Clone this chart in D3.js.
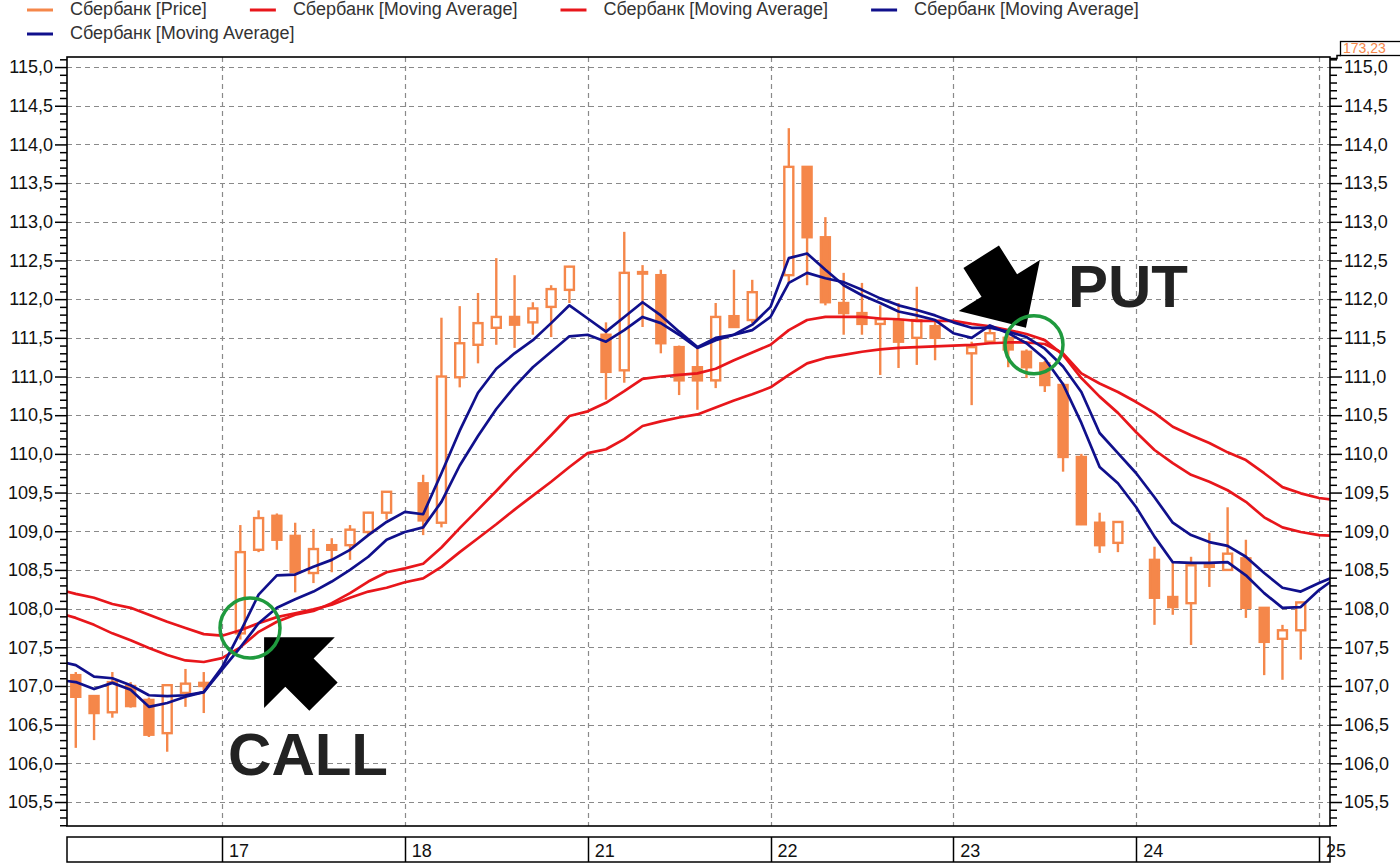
<!DOCTYPE html>
<html><head><meta charset="utf-8">
<script src="https://cdn.jsdelivr.net/npm/d3@7"></script>
<style>body{margin:0;background:#fff;}svg{display:block;}</style>
</head><body>
<svg id="c" width="1400" height="867"></svg>
<script>
// ---- DATA ----
const dayLabels = ["17","18","21","22","23","24","25"];
const dayStartIndex = [8,18,28,38,48,58,68];
const priceTicks = [105.5,106.0,106.5,107.0,107.5,108.0,108.5,109.0,109.5,110.0,110.5,111.0,111.5,112.0,112.5,113.0,113.5,114.0,114.5,115.0];
const legendLabels = ["Сбербанк [Price]","Сбербанк [Moving Average]","Сбербанк [Moving Average]","Сбербанк [Moving Average]","Сбербанк [Moving Average]"];
const lastPriceLabel = "173,23";

const opens = [107.14,106.87,106.66,107.00,106.82,106.39,106.91,107.04,107.84,107.68,
108.76,109.20,108.94,108.46,108.82,108.82,108.99,109.24,109.62,109.62,
109.11,110.99,111.41,111.63,111.77,111.70,111.90,112.12,111.56,111.54,
111.08,112.35,112.31,111.38,111.12,110.95,111.78,111.73,112.29,112.31,
113.71,112.80,111.95,111.82,111.68,111.73,111.50,111.65,111.30,111.30,
111.45,111.50,111.32,111.17,110.89,109.96,109.11,108.85,108.63,108.63,
108.15,108.07,108.56,108.50,108.65,108.01,107.61,107.72,108.67];
const highs = [107.18,106.88,107.18,107.05,106.85,107.02,107.22,107.18,107.84,109.08,
109.27,109.23,109.11,109.03,108.91,109.08,109.25,109.52,109.62,109.73,
111.76,111.91,112.08,112.53,112.31,111.96,112.18,112.43,111.56,111.70,
112.87,112.44,112.38,111.40,111.38,111.95,112.38,112.25,112.29,114.21,
113.72,113.06,112.34,112.21,111.92,111.95,112.16,111.73,111.30,111.45,
111.64,111.55,111.35,111.20,110.92,110.00,109.24,109.13,108.63,108.80,
108.59,108.67,108.98,109.31,108.89,108.02,107.79,108.09,108.67];
const lows = [106.20,106.30,106.59,106.72,106.34,106.15,106.73,106.65,107.84,107.60,
108.73,108.76,108.21,108.33,108.47,108.63,108.95,109.15,109.62,108.95,
109.05,110.86,111.17,111.41,111.37,111.54,111.51,111.95,111.56,110.70,
110.92,111.64,111.30,110.76,110.57,110.85,111.63,111.69,112.29,112.21,
112.18,111.92,111.54,111.54,111.02,111.11,111.15,111.21,111.30,110.63,
111.44,111.12,110.98,110.80,109.77,109.08,108.72,108.73,108.63,107.79,
107.92,107.53,108.28,108.49,107.88,107.14,107.08,107.34,108.67];
const closes = [106.86,106.65,107.05,106.74,106.37,107.01,107.03,107.00,107.84,108.73,
109.17,108.89,108.47,108.77,108.76,109.02,109.24,109.51,109.62,109.14,
111.00,111.43,111.69,111.77,111.67,111.88,112.13,112.42,111.56,111.06,
112.34,112.33,111.43,110.95,110.95,111.77,111.64,112.09,112.29,113.71,
112.80,111.96,111.82,111.68,111.74,111.45,111.73,111.50,111.30,111.38,
111.56,111.35,111.12,110.89,109.96,109.09,108.82,109.12,108.63,108.14,
108.02,108.56,108.54,108.71,108.01,107.57,107.72,108.08,108.67];

// moving averages, first value belongs to candle index -1
const maStart = -1;
const maRedFast = [107.95,107.88,107.79,107.68,107.59,107.49,107.40,107.33,107.31,107.36,
107.50,107.70,107.83,107.92,107.97,108.07,108.20,108.35,108.47,108.52,
108.58,108.79,109.04,109.28,109.52,109.77,110.00,110.24,110.49,110.55,
110.66,110.81,110.97,111.00,111.02,111.04,111.10,111.21,111.31,111.41,
111.60,111.73,111.77,111.77,111.77,111.75,111.74,111.72,111.72,111.72,
111.68,111.65,111.60,111.55,111.47,111.28,110.98,110.74,110.53,110.28,
110.05,109.88,109.73,109.64,109.53,109.38,109.18,109.05,108.99,108.95,108.94];
const maRedSlow = [108.25,108.19,108.14,108.06,108.01,107.92,107.83,107.75,107.67,107.65,
107.72,107.81,107.89,107.94,107.99,108.05,108.14,108.22,108.27,108.34,
108.39,108.54,108.73,108.91,109.09,109.28,109.46,109.64,109.83,110.01,
110.06,110.19,110.36,110.42,110.47,110.51,110.60,110.69,110.77,110.86,
111.02,111.17,111.24,111.28,111.32,111.35,111.37,111.38,111.39,111.40,
111.41,111.43,111.44,111.44,111.42,111.30,111.04,110.91,110.80,110.67,
110.53,110.35,110.24,110.14,110.02,109.92,109.75,109.57,109.49,109.43,109.40];
const maBlueFast = [107.08,107.05,106.96,107.04,106.95,106.73,106.78,106.86,106.92,107.24,
107.70,108.18,108.43,108.44,108.54,108.63,108.76,108.95,109.12,109.25,
109.22,109.75,110.30,110.79,111.10,111.30,111.47,111.69,111.92,111.75,
111.58,111.77,111.96,111.79,111.58,111.38,111.50,111.54,111.67,111.90,
112.53,112.59,112.38,112.18,112.05,111.95,111.84,111.79,111.73,111.56,
111.50,111.66,111.56,111.43,111.23,110.90,110.40,109.83,109.62,109.31,
108.93,108.60,108.59,108.59,108.60,108.43,108.20,108.01,108.02,108.24,108.41];
const maBlueSlow = [107.32,107.27,107.12,107.10,107.01,106.88,106.87,106.88,106.92,107.21,
107.50,107.81,108.01,108.12,108.22,108.35,108.50,108.67,108.89,108.99,
109.05,109.38,109.85,110.23,110.58,110.87,111.12,111.32,111.52,111.54,
111.45,111.60,111.77,111.69,111.54,111.37,111.47,111.54,111.60,111.77,
112.21,112.34,112.27,112.22,112.12,112.01,111.92,111.86,111.79,111.70,
111.63,111.63,111.58,111.51,111.36,111.13,110.80,110.27,110.01,109.75,
109.44,109.11,108.95,108.86,108.81,108.67,108.46,108.27,108.22,108.33,108.43];

// annotations in data coordinates (candle index, price)
const callCircle = {i:9.53, v:107.75};
const putCircle  = {i:52.41, v:111.41};
const callArrowTip = {i:10.3, v:107.63};
const putArrowTip  = {i:51.97, v:111.63};
const callText = {i:8.33, v:105.85, t:"CALL"};
const putText  = {i:54.27, v:111.90, t:"PUT"};

// ---- STYLE ----
const ORANGE="#f5874a", RED="#e8161b", BLUE="#10108c", GREEN="#1f9a3e";
const FONT="'Liberation Sans', Arial, sans-serif";
const legendColors=[ORANGE,RED,RED,BLUE,BLUE];

const svg=d3.select('#c');
const L=67,R=1330,T=57,B=826;
const x=d3.scaleLinear().domain([-0.48,68.6]).range([L,R]);
const y=d3.scaleLinear().domain([105.19,115.13]).range([B,T]);
const fmt=d=>d.toFixed(1).replace('.',',');

svg.append('defs').append('clipPath').attr('id','clip')
  .append('rect').attr('x',L).attr('y',T).attr('width',R-L).attr('height',B-T);

// grid
const grid=svg.append('g').attr('stroke','#8a8a8a').attr('stroke-width',1.2).attr('stroke-dasharray','5,4');
grid.selectAll('line.h').data(priceTicks).join('line')
  .attr('x1',L).attr('x2',R).attr('y1',d=>Math.round(y(d))+0.5).attr('y2',d=>Math.round(y(d))+0.5);
grid.selectAll('line.v').data(dayStartIndex).join('line')
  .attr('x1',d=>Math.round(x(d))+0.5).attr('x2',d=>Math.round(x(d))+0.5).attr('y1',T).attr('y2',B);

// candles
const plot=svg.append('g').attr('clip-path','url(#clip)');
const idx=d3.range(opens.length);
plot.selectAll('line.wick').data(idx).join('line')
  .attr('x1',i=>x(i)).attr('x2',i=>x(i))
  .attr('y1',i=>y(highs[i])).attr('y2',i=>y(lows[i]))
  .attr('stroke',ORANGE).attr('stroke-width',2.4);
plot.selectAll('rect.body').data(idx).join('rect')
  .attr('x',i=>x(i)-4.5).attr('width',9)
  .attr('y',i=>y(Math.max(opens[i],closes[i])))
  .attr('height',i=>Math.abs(y(opens[i])-y(closes[i])))
  .attr('fill',i=>closes[i]<opens[i]?ORANGE:'#fff')
  .attr('stroke',ORANGE).attr('stroke-width',2.4);

// moving averages
const line=d3.line().x((d,k)=>x(k+maStart)).y(d=>y(d));
[[maRedSlow,RED],[maRedFast,RED],[maBlueSlow,BLUE],[maBlueFast,BLUE]].forEach(([s,c])=>{
  plot.append('path').datum(s).attr('d',line).attr('fill','none')
    .attr('stroke',c).attr('stroke-width',2.7).attr('stroke-linejoin','round');
});

// border
svg.append('rect').attr('x',L).attr('y',T).attr('width',R-L).attr('height',B-T)
  .attr('fill','none').attr('stroke','#000').attr('stroke-width',1.6);

// axes
const minorTicks=d3.range(1052,1152,1).map(v=>v/10).filter(v=>Math.round(v*10)%5!==0 && v<=115.13);
function styleAxis(g){
  g.select('.domain').remove();
  g.selectAll('line').attr('stroke','#000').attr('stroke-width',1.5);
  g.selectAll('text').attr('font-family',FONT).attr('font-size',18).attr('fill','#111');
}
svg.append('g').attr('transform',`translate(${L},0)`)
  .call(d3.axisLeft(y).tickValues(priceTicks).tickSize(12).tickPadding(2).tickFormat(fmt)).call(styleAxis);
svg.append('g').attr('transform',`translate(${L},0)`)
  .call(d3.axisLeft(y).tickValues(minorTicks).tickSize(7).tickFormat('')).call(styleAxis);
svg.append('g').attr('transform',`translate(${R},0)`)
  .call(d3.axisRight(y).tickValues(priceTicks).tickSize(12).tickPadding(2).tickFormat(fmt)).call(styleAxis);
svg.append('g').attr('transform',`translate(${R},0)`)
  .call(d3.axisRight(y).tickValues(minorTicks).tickSize(7).tickFormat('')).call(styleAxis);

// price marker box (kept just above the 115,0 label)
svg.append('path').attr('d','M1330,58.5H1337V55.5H1341').attr('fill','none').attr('stroke','#000').attr('stroke-width',1.5);
svg.append('rect').attr('x',1340.5).attr('y',41.5).attr('width',64).attr('height',14)
  .attr('fill','#fff').attr('stroke','#000').attr('stroke-width',1.3);
svg.append('text').attr('x',1343).attr('y',53).attr('font-family',FONT).attr('font-size',14)
  .attr('fill',ORANGE).text(lastPriceLabel);

// bottom date axis
const bx=svg.append('g');
bx.append('rect').attr('x',L).attr('y',837).attr('width',R-L).attr('height',25)
  .attr('fill','none').attr('stroke','#000').attr('stroke-width',1.5);
bx.selectAll('line').data(dayStartIndex).join('line')
  .attr('x1',d=>Math.round(x(d))+0.5).attr('x2',d=>Math.round(x(d))+0.5)
  .attr('y1',837).attr('y2',862).attr('stroke','#000').attr('stroke-width',1.5);
bx.selectAll('text').data(dayStartIndex).join('text')
  .attr('x',d=>x(d)+7).attr('y',857).attr('font-family',FONT).attr('font-size',18).attr('fill','#111')
  .text((d,k)=>dayLabels[k]);

// legend (flow layout)
const lg=svg.append('g');
let lx=27, ly=0;
legendLabels.forEach((t,k)=>{
  const tmp=lg.append('text').attr('font-family',FONT).attr('font-size',18).attr('fill','#333').text(t);
  const w=tmp.node().getComputedTextLength();
  if(lx+43+w>1400){lx=27; ly+=24;}
  lg.append('line').attr('x1',lx).attr('x2',lx+26).attr('y1',10+ly).attr('y2',10+ly)
    .attr('stroke',legendColors[k]).attr('stroke-width',3);
  tmp.attr('x',lx+43).attr('y',15+ly);
  lx=lx+43+w+43;
});

// annotations
const ann=svg.append('g');
function arrowPts(tip,ang,hl,hw,sl,sw){
  const tx=x(tip.i), ty=y(tip.v), a=ang*Math.PI/180, c=Math.cos(a), s=Math.sin(a);
  return [[0,0],[-hl,hw],[-hl,sw],[-hl-sl,sw],[-hl-sl,-sw],[-hl,-sw],[-hl,-hw]]
    .map(([u,v])=>[tx+u*c-v*s, ty+u*s+v*c]);
}
ann.append('polygon').attr('points',arrowPts(callArrowTip,225,50,50,34,20).join(' ')).attr('fill','#000');
ann.append('polygon').attr('points',arrowPts(putArrowTip,57.8,50,48,34,21).join(' ')).attr('fill','#000');
[[callCircle,30],[putCircle,29]].forEach(([c,r])=>{
  ann.append('circle').attr('cx',x(c.i)).attr('cy',y(c.v)).attr('r',r)
    .attr('fill','none').attr('stroke',GREEN).attr('stroke-width',3.5);
});
[callText,putText].forEach(o=>{
  ann.append('text').attr('x',x(o.i)).attr('y',y(o.v)).attr('font-family',FONT)
    .attr('font-weight','bold').attr('font-size',60).attr('fill','#222').text(o.t);
});
</script>
</body></html>
